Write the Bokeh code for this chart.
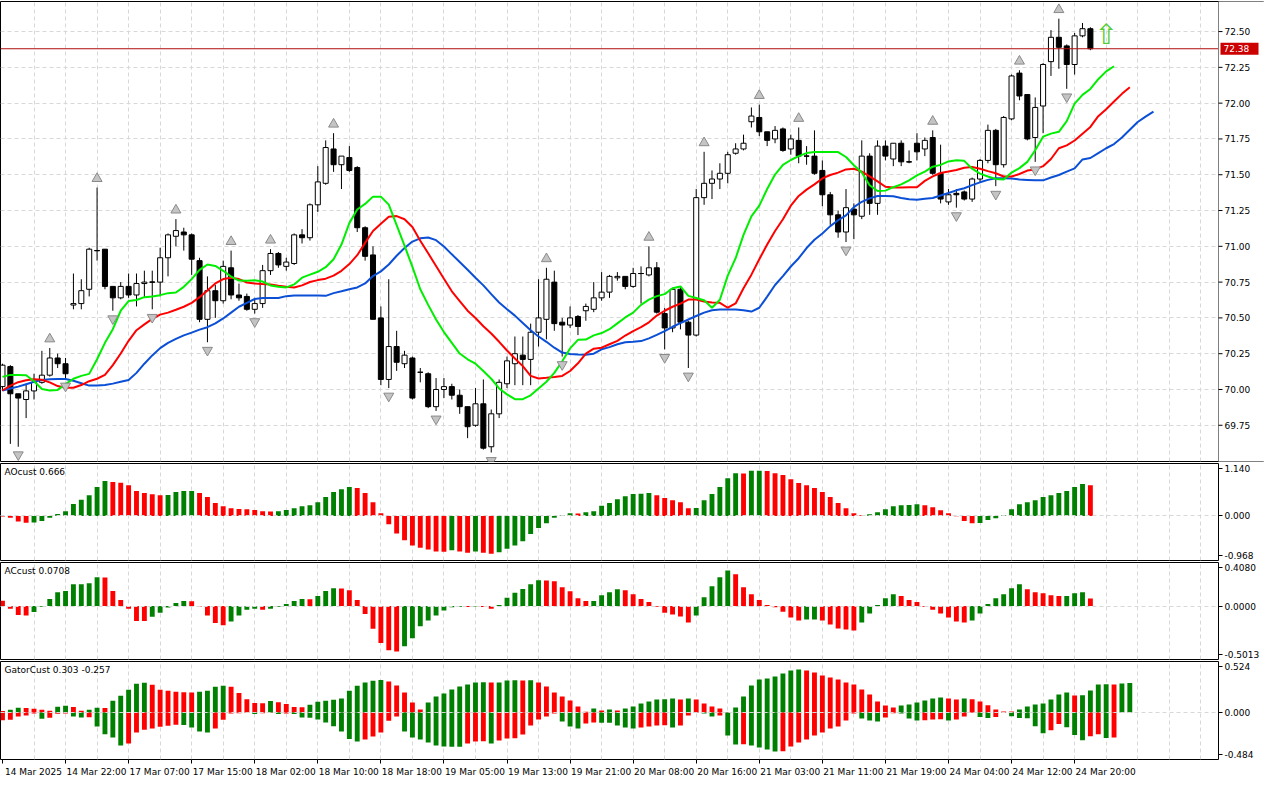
import numpy as np
from bokeh.plotting import figure
from bokeh.models import Range1d, FixedTicker, CustomJSTickFormatter, Span, Label
from bokeh.layouts import column
from bokeh.embed import file_html
from bokeh.resources import INLINE
from bokeh.core.properties import value

# ---------------- data (hourly bars) ----------------
time_labels = ["14 Mar 2025", "14 Mar 22:00", "17 Mar 07:00", "17 Mar 15:00", "18 Mar 02:00",
               "18 Mar 10:00", "18 Mar 18:00", "19 Mar 05:00", "19 Mar 13:00", "19 Mar 21:00",
               "20 Mar 08:00", "20 Mar 16:00", "21 Mar 03:00", "21 Mar 11:00", "21 Mar 19:00",
               "24 Mar 04:00", "24 Mar 12:00", "24 Mar 20:00"]
label_bars = [0, 8, 16, 24, 32, 40, 48, 56, 64, 72, 80, 88, 96, 104, 112, 120, 128, 136]

opens = [70.02, 70.16, 69.97, 69.93, 69.99, 70.05, 70.10, 70.22, 70.18, 70.59,
         70.60, 70.70, 70.97, 70.98, 70.72, 70.64, 70.72, 70.66, 70.74, 70.75,
         70.75, 70.92, 71.07, 71.10, 71.08, 70.90, 70.49, 70.69, 70.62, 70.85,
         70.66, 70.65, 70.56, 70.60, 70.83, 70.95, 70.86, 70.88, 71.08, 71.06,
         71.29, 71.44, 71.68, 71.57, 71.62, 71.55, 71.13, 70.94, 70.50, 70.07,
         70.30, 70.18, 70.22, 70.12, 70.11, 69.88, 70.00, 70.02, 69.96, 69.88,
         69.75, 69.90, 69.60, 69.83, 70.04, 70.18, 70.24, 70.21, 70.40, 70.49,
         70.75, 70.47, 70.45, 70.51, 70.55, 70.56, 70.64, 70.68, 70.78, 70.79,
         70.72, 70.81, 70.80, 70.85, 70.53, 70.43, 70.70, 70.47, 70.38, 71.34,
         71.44, 71.47, 71.51, 71.65, 71.68, 71.87, 71.90, 71.80, 71.75, 71.82,
         71.68, 71.74, 71.63, 71.63, 71.53, 71.36, 71.22, 71.10, 71.26, 71.21,
         71.63, 71.30, 71.70, 71.61, 71.72, 71.59, 71.72, 71.68, 71.76, 71.51,
         71.31, 71.37, 71.38, 71.33, 71.47, 71.60, 71.81, 71.57, 71.89, 72.21,
         72.06, 71.76, 71.98, 72.29, 72.46, 72.40, 72.27, 72.47, 72.52]
highs = [70.18, 70.17, 69.97, 70.04, 70.11, 70.27, 70.29, 70.25, 70.22, 70.81,
         70.77, 70.99, 71.41, 70.98, 70.72, 70.75, 70.81, 70.81, 70.83, 70.83,
         70.99, 71.09, 71.19, 71.13, 71.09, 70.92, 70.79, 70.73, 70.90, 70.97,
         70.74, 70.67, 70.64, 70.87, 70.98, 70.96, 70.92, 71.09, 71.12, 71.30,
         71.56, 71.74, 71.79, 71.63, 71.70, 71.56, 71.14, 71.00, 70.58, 70.77,
         70.41, 70.27, 70.23, 70.15, 70.12, 70.08, 70.08, 70.04, 70.00, 69.88,
         70.01, 70.07, 69.86, 70.07, 70.23, 70.37, 70.37, 70.46, 70.77, 70.85,
         70.83, 70.50, 70.58, 70.52, 70.60, 70.75, 70.82, 70.80, 70.82, 70.79,
         70.85, 70.86, 71.00, 70.89, 70.57, 70.71, 70.72, 70.48, 71.40, 71.66,
         71.53, 71.58, 71.66, 71.72, 71.78, 71.97, 71.99, 71.80, 71.84, 71.83,
         71.78, 71.83, 71.70, 71.81, 71.60, 71.38, 71.25, 71.40, 71.30, 71.74,
         71.65, 71.74, 71.74, 71.72, 71.74, 71.67, 71.79, 71.76, 71.81, 71.71,
         71.40, 71.40, 71.39, 71.48, 71.61, 71.85, 71.82, 71.91, 72.20, 72.23,
         72.06, 72.04, 72.28, 72.51, 72.59, 72.41, 72.49, 72.56, 72.53]
lows = [69.99, 69.62, 69.60, 69.80, 69.93, 70.04, 70.09, 70.15, 70.08, 70.56,
        70.56, 70.65, 70.90, 70.70, 70.55, 70.63, 70.64, 70.58, 70.64, 70.56,
        70.65, 70.79, 71.00, 70.97, 70.80, 70.47, 70.33, 70.50, 70.60, 70.63,
        70.62, 70.55, 70.53, 70.57, 70.80, 70.85, 70.83, 70.87, 71.02, 71.04,
        71.24, 71.43, 71.52, 71.40, 71.52, 71.10, 70.90, 70.49, 70.03, 70.01,
        70.13, 70.15, 69.93, 70.05, 69.87, 69.85, 69.94, 69.93, 69.83, 69.66,
        69.74, 69.58, 69.56, 69.80, 70.01, 70.03, 70.03, 70.03, 70.30, 70.35,
        70.41, 70.23, 70.43, 70.38, 70.48, 70.54, 70.62, 70.64, 70.76, 70.70,
        70.71, 70.60, 70.79, 70.53, 70.28, 70.40, 70.42, 70.15, 70.37, 71.29,
        71.33, 71.40, 71.44, 71.64, 71.67, 71.83, 71.77, 71.70, 71.72, 71.66,
        71.64, 71.58, 71.57, 71.50, 71.28, 71.15, 71.06, 71.03, 71.05, 71.19,
        71.22, 71.22, 71.60, 71.56, 71.56, 71.58, 71.60, 71.63, 71.50, 71.30,
        71.29, 71.27, 71.32, 71.31, 71.45, 71.58, 71.42, 71.55, 71.88, 72.02,
        71.74, 71.59, 71.79, 72.19, 72.24, 72.10, 72.20, 72.46, 72.37]
closes = [70.17, 69.97, 69.94, 69.99, 70.05, 70.10, 70.22, 70.18, 70.11, 70.60,
          70.69, 70.98, 70.97, 70.72, 70.64, 70.72, 70.66, 70.74, 70.75, 70.75,
          70.92, 71.08, 71.11, 71.08, 70.91, 70.49, 70.69, 70.62, 70.86, 70.66,
          70.64, 70.56, 70.60, 70.83, 70.95, 70.87, 70.89, 71.08, 71.06, 71.29,
          71.45, 71.69, 71.57, 71.63, 71.53, 71.13, 70.93, 70.49, 70.07, 70.30,
          70.19, 70.24, 69.94, 70.12, 69.88, 70.00, 70.02, 69.96, 69.88, 69.74,
          69.90, 69.59, 69.83, 70.05, 70.20, 70.25, 70.21, 70.40, 70.50, 70.77,
          70.46, 70.45, 70.50, 70.44, 70.58, 70.64, 70.68, 70.79, 70.79, 70.72,
          70.81, 70.81, 70.85, 70.54, 70.43, 70.70, 70.47, 70.38, 71.34, 71.44,
          71.47, 71.51, 71.64, 71.68, 71.72, 71.91, 71.80, 71.74, 71.81, 71.67,
          71.75, 71.63, 71.63, 71.51, 71.36, 71.22, 71.10, 71.27, 71.22, 71.63,
          71.30, 71.70, 71.63, 71.72, 71.59, 71.59, 71.66, 71.74, 71.51, 71.33,
          71.36, 71.36, 71.33, 71.47, 71.60, 71.81, 71.57, 71.90, 72.19, 72.05,
          71.75, 71.97, 72.27, 72.46, 72.39, 72.27, 72.47, 72.52, 72.38]

# Alligator lines as displayed (already shifted forward: lips 3, teeth 5, jaw 8 bars)
lips = [70.088, 70.102, 70.102, 70.099, 70.058, 70.003, 69.993, 69.997, 70.037, 70.075,
        70.095, 70.109, 70.211, 70.326, 70.421, 70.550, 70.618, 70.625, 70.645, 70.650,
        70.659, 70.673, 70.677, 70.717, 70.771, 70.836, 70.873, 70.863, 70.829, 70.788,
        70.761, 70.759, 70.763, 70.754, 70.727, 70.717, 70.713, 70.734, 70.781, 70.802,
        70.822, 70.854, 70.910, 71.012, 71.162, 71.257, 71.296, 71.347, 71.347, 71.291,
        71.148, 71.005, 70.856, 70.700, 70.591, 70.489, 70.401, 70.326, 70.251, 70.211,
        70.180, 70.129, 70.075, 70.007, 69.966, 69.932, 69.932, 69.959, 70.007, 70.054,
        70.116, 70.197, 70.287, 70.347, 70.349, 70.378, 70.394, 70.421, 70.462, 70.503,
        70.537, 70.591, 70.628, 70.652, 70.666, 70.707, 70.720, 70.654, 70.639, 70.623,
        70.571, 70.627, 70.795, 70.917, 71.080, 71.209, 71.284, 71.400, 71.501, 71.569,
        71.603, 71.630, 71.651, 71.658, 71.658, 71.658, 71.658, 71.624, 71.566, 71.515,
        71.427, 71.386, 71.389, 71.413, 71.433, 71.461, 71.495, 71.522, 71.556, 71.569,
        71.593, 71.601, 71.597, 71.542, 71.508, 71.488, 71.471, 71.467, 71.515, 71.546,
        71.590, 71.671, 71.766, 71.787, 71.800, 71.875, 71.997, 72.058, 72.099, 72.167,
        72.222, 72.258]
teeth = [69.993, 70.027, 70.051, 70.065, 70.071, 70.068, 70.050, 70.024, 70.012, 70.012,
         70.031, 70.058, 70.075, 70.102, 70.170, 70.251, 70.340, 70.414, 70.455, 70.493,
         70.523, 70.537, 70.557, 70.578, 70.605, 70.645, 70.691, 70.741, 70.771, 70.781,
         70.771, 70.747, 70.741, 70.737, 70.734, 70.724, 70.717, 70.713, 70.727, 70.751,
         70.764, 70.774, 70.795, 70.829, 70.876, 70.938, 71.024, 71.107, 71.158, 71.206,
         71.211, 71.189, 71.135, 71.039, 70.951, 70.863, 70.774, 70.686, 70.618, 70.550,
         70.499, 70.442, 70.391, 70.333, 70.272, 70.217, 70.163, 70.095, 70.077, 70.082,
         70.088, 70.095, 70.129, 70.183, 70.251, 70.285, 70.292, 70.316, 70.340, 70.377,
         70.408, 70.435, 70.469, 70.516, 70.550, 70.578, 70.600, 70.628, 70.628, 70.615,
         70.608, 70.605, 70.571, 70.601, 70.707, 70.802, 70.910, 71.012, 71.107, 71.189,
         71.284, 71.352, 71.396, 71.433, 71.474, 71.498, 71.515, 71.537, 71.542, 71.522,
         71.488, 71.454, 71.416, 71.410, 71.410, 71.413, 71.413, 71.457, 71.488, 71.512,
         71.522, 71.533, 71.549, 71.554, 71.542, 71.525, 71.510, 71.488, 71.488, 71.505,
         71.529, 71.537, 71.560, 71.610, 71.685, 71.705, 71.739, 71.787, 71.834, 71.909,
         71.957, 72.011, 72.065, 72.111]
jaw = [69.993, 70.007, 70.020, 70.037, 70.054, 70.066, 70.071, 70.073, 70.073, 70.061,
       70.044, 70.027, 70.027, 70.031, 70.041, 70.054, 70.066, 70.116, 70.180, 70.238,
       70.289, 70.326, 70.353, 70.378, 70.397, 70.418, 70.435, 70.462, 70.496, 70.537,
       70.578, 70.605, 70.632, 70.639, 70.639, 70.639, 70.652, 70.656, 70.657, 70.657,
       70.656, 70.654, 70.673, 70.686, 70.700, 70.713, 70.741, 70.792, 70.825, 70.873,
       70.934, 70.988, 71.033, 71.056, 71.062, 71.043, 70.999, 70.944, 70.890, 70.836,
       70.781, 70.727, 70.666, 70.608, 70.561, 70.516, 70.465, 70.414, 70.370, 70.333,
       70.292, 70.258, 70.248, 70.245, 70.243, 70.250, 70.281, 70.296, 70.316, 70.330,
       70.333, 70.338, 70.357, 70.381, 70.408, 70.438, 70.464, 70.489, 70.513, 70.537,
       70.554, 70.559, 70.559, 70.559, 70.554, 70.544, 70.571, 70.649, 70.730, 70.792,
       70.859, 70.917, 70.988, 71.046, 71.090, 71.141, 71.182, 71.216, 71.274, 71.311,
       71.335, 71.352, 71.352, 71.349, 71.338, 71.328, 71.325, 71.332, 71.338, 71.355,
       71.372, 71.391, 71.406, 71.427, 71.447, 71.464, 71.476, 71.476, 71.473, 71.467,
       71.464, 71.461, 71.461, 71.481, 71.498, 71.522, 71.544, 71.607, 71.617, 71.651,
       71.685, 71.714, 71.760, 71.814, 71.868, 71.906, 71.941]

fractal_up_bars = [6, 12, 22, 29, 34, 42, 69, 82, 89, 96, 101, 118, 129, 134]
fractal_down_bars = [2, 8, 14, 19, 26, 32, 49, 55, 62, 71, 84, 87, 107, 121, 126, 131, 135]
signal_bar = [140]
signal_price = [72.48]

ao = [-0.01, -0.04, -0.12, -0.15, -0.14, -0.11, -0.04, 0.04, 0.10, 0.26,
      0.35, 0.45, 0.63, 0.76, 0.74, 0.72, 0.67, 0.54, 0.50, 0.47,
      0.45, 0.455, 0.52, 0.54, 0.545, 0.50, 0.41, 0.28, 0.21, 0.17,
      0.15, 0.145, 0.13, 0.10, 0.095, 0.10, 0.13, 0.17, 0.21, 0.23,
      0.30, 0.41, 0.52, 0.58, 0.63, 0.61, 0.50, 0.30, 0.06, -0.18,
      -0.38, -0.53, -0.64, -0.69, -0.73, -0.77, -0.78, -0.745, -0.77, -0.80,
      -0.77, -0.80, -0.82, -0.79, -0.71, -0.64, -0.55, -0.39, -0.26, -0.16,
      -0.04, 0.015, 0.06, 0.055, 0.08, 0.10, 0.22, 0.28, 0.365, 0.43,
      0.475, 0.48, 0.50, 0.45, 0.39, 0.34, 0.30, 0.17, 0.175, 0.34,
      0.475, 0.63, 0.82, 0.93, 0.925, 0.98, 0.985, 0.975, 0.93, 0.89,
      0.80, 0.715, 0.67, 0.61, 0.52, 0.41, 0.28, 0.17, 0.06, 0.015,
      0.035, 0.08, 0.145, 0.21, 0.235, 0.236, 0.255, 0.235, 0.19, 0.125,
      0.06, -0.005, -0.11, -0.16, -0.155, -0.09, -0.05, 0.02, 0.145, 0.255,
      0.30, 0.34, 0.41, 0.45, 0.50, 0.54, 0.63, 0.693, 0.666]
ac = [0.05, -0.025, -0.083, -0.09, -0.056, -0.006, 0.065, 0.13, 0.14, 0.204,
      0.205, 0.213, 0.27, 0.268, 0.14, 0.056, -0.025, -0.14, -0.141, -0.10,
      -0.062, -0.015, 0.028, 0.046, 0.045, -0.004, -0.09, -0.16, -0.18, -0.145,
      -0.09, -0.034, -0.025, -0.034, -0.025, -0.006, 0.019, 0.046, 0.065, 0.064,
      0.093, 0.14, 0.167, 0.165, 0.148, 0.056, -0.074, -0.213, -0.346, -0.414,
      -0.426, -0.377, -0.303, -0.19, -0.136, -0.09, -0.043, -0.012, -0.006, -0.008,
      -0.004, -0.01, -0.025, 0.009, 0.077, 0.124, 0.16, 0.204, 0.241, 0.240,
      0.232, 0.176, 0.139, 0.074, 0.046, 0.047, 0.102, 0.13, 0.158, 0.148,
      0.111, 0.065, 0.037, -0.006, -0.062, -0.08, -0.099, -0.155, -0.09, 0.083,
      0.185, 0.269, 0.334, 0.297, 0.176, 0.111, 0.056, 0.009, -0.012, -0.053,
      -0.108, -0.136, -0.127, -0.126, -0.136, -0.173, -0.21, -0.22, -0.229, -0.155,
      -0.071, 0.009, 0.074, 0.111, 0.093, 0.056, 0.037, -0.006, -0.034, -0.071,
      -0.108, -0.145, -0.155, -0.136, -0.071, 0.019, 0.074, 0.111, 0.167, 0.204,
      0.158, 0.13, 0.12, 0.102, 0.093, 0.094, 0.12, 0.13, 0.0708]
gator_up = [0.014, 0.027, 0.048, 0.046, 0.038, 0.027, 0.017, 0.058, 0.069, 0.055,
            0.017, 0.027, 0.048, 0.046, 0.120, 0.172, 0.233, 0.295, 0.305, 0.285,
            0.233, 0.223, 0.213, 0.209, 0.206, 0.213, 0.223, 0.264, 0.274, 0.264,
            0.199, 0.137, 0.096, 0.094, 0.117, 0.106, 0.086, 0.055, 0.053, 0.079,
            0.110, 0.120, 0.130, 0.144, 0.223, 0.274, 0.309, 0.326, 0.333, 0.319,
            0.278, 0.206, 0.103, 0.031, 0.103, 0.165, 0.196, 0.237, 0.268, 0.288,
            0.309, 0.310, 0.307, 0.309, 0.329, 0.331, 0.329, 0.330, 0.309, 0.268,
            0.206, 0.165, 0.123, 0.062, 0.007, 0.041, 0.021, 0.031, 0.021, 0.041,
            0.062, 0.093, 0.113, 0.134, 0.135, 0.144, 0.134, 0.144, 0.134, 0.093,
            0.062, 0.041, 0.002, 0.051, 0.165, 0.278, 0.340, 0.350, 0.370, 0.401,
            0.432, 0.442, 0.432, 0.412, 0.381, 0.360, 0.340, 0.309, 0.288, 0.237,
            0.185, 0.113, 0.072, 0.051, 0.072, 0.082, 0.103, 0.123, 0.144, 0.154,
            0.144, 0.134, 0.144, 0.137, 0.113, 0.075, 0.031, 0.010, 0.009, 0.031,
            0.062, 0.082, 0.093, 0.134, 0.185, 0.206, 0.175, 0.177, 0.226, 0.288,
            0.289, 0.288, 0.298, 0.303]
gator_down = [0.079, 0.075, 0.041, 0.031, 0.010, 0.065, 0.055, 0.014, 0.012, 0.041,
              0.051, 0.050, 0.144, 0.223, 0.257, 0.340, 0.319, 0.206, 0.178, 0.165,
              0.147, 0.137, 0.127, 0.129, 0.154, 0.196, 0.206, 0.165, 0.075, 0.010,
              0.007, 0.003, 0.017, 0.007, 0.003, 0.017, 0.010, 0.017, 0.051, 0.055,
              0.072, 0.103, 0.141, 0.196, 0.274, 0.298, 0.278, 0.247, 0.206, 0.086,
              0.041, 0.196, 0.257, 0.278, 0.309, 0.340, 0.350, 0.352, 0.353, 0.319,
              0.298, 0.297, 0.319, 0.288, 0.268, 0.266, 0.226, 0.134, 0.072, 0.041,
              0.010, 0.093, 0.144, 0.165, 0.113, 0.103, 0.105, 0.106, 0.134, 0.154,
              0.165, 0.154, 0.144, 0.134, 0.132, 0.154, 0.134, 0.031, 0.002, 0.010,
              0.041, 0.031, 0.237, 0.329, 0.328, 0.340, 0.360, 0.381, 0.401, 0.398,
              0.350, 0.309, 0.278, 0.237, 0.206, 0.165, 0.144, 0.082, 0.010, 0.062,
              0.082, 0.093, 0.051, 0.007, 0.010, 0.062, 0.082, 0.081, 0.072, 0.070,
              0.082, 0.072, 0.041, 0.003, 0.048, 0.058, 0.048, 0.005, 0.038, 0.058,
              0.059, 0.141, 0.213, 0.182, 0.120, 0.151, 0.233, 0.285, 0.244, 0.223,
              0.264, 0.257]

price_ticks = [69.75, 70.00, 70.25, 70.50, 70.75, 71.00, 71.25, 71.50, 71.75, 72.00, 72.25, 72.50]
price_range = (69.497, 72.71)
ao_range = (-0.968, 1.140)
ac_range = (-0.5013, 0.4080)
gator_range = (-0.484, 0.524)
ao_labels = ("-0.968", "0.000", "1.140")
ac_labels = ("-0.5013", "0.0000", "0.4080")
gator_labels = ("-0.484", "0.000", "0.524")

# ---------------- layout / style ----------------
W = 1264
RB = 46
FRAME_W = W - RB
X0, X1 = -0.25, 154.25
PXX = (X1 - X0) / FRAME_W          # data units per horizontal pixel
X2 = X1 + RB * PXX                 # main panel spans the price-scale strip as well
FH_MAIN, FH_SUB, FH_GATOR = 460, 97, 98
FONT = "DejaVu Sans"
GRID = "#d8d8d8"
GREEN = "#008000"
RED = "#ff0000"
grid_bars = list(range(4, 154, 4))

xr = Range1d(X0, X1)


def style_common(p):
    p.outline_line_color = "black"
    p.outline_line_alpha = 1.0
    p.outline_line_width = 1
    p.background_fill_color = "white"
    p.border_fill_color = "white"
    p.xgrid.ticker = FixedTicker(ticks=grid_bars)
    p.xgrid.grid_line_color = GRID
    p.xgrid.grid_line_dash = "4 3"
    p.ygrid.grid_line_color = GRID
    p.ygrid.grid_line_dash = "4 3"


def make_fig(frame_h, yr, with_xaxis=False):
    p = figure(frame_width=FRAME_W, frame_height=frame_h, x_range=xr, y_range=Range1d(*yr),
               toolbar_location=None, output_backend="svg",
               y_axis_location="right", x_axis_location=("below" if with_xaxis else None),
               min_border_left=0, min_border_right=RB, min_border_top=1,
               min_border_bottom=(0 if with_xaxis else 1))
    style_common(p)
    ax = p.yaxis[0]
    ax.axis_line_color = None
    ax.major_tick_out = 4
    ax.major_tick_in = 0
    ax.minor_tick_out = 0
    ax.minor_tick_in = 0
    ax.major_tick_line_color = "black"
    ax.major_label_text_font = FONT
    ax.major_label_text_font_size = "9px"
    ax.major_label_text_color = "black"
    ax.major_label_standoff = 2
    return p


def dir_colors(vals):
    out = [RED]
    for a, b in zip(vals[:-1], vals[1:]):
        out.append(GREEN if b > a else RED)
    return out


def sub_axis(p, yr, labels, frame_h):
    d = 5.0 * (yr[1] - yr[0]) / frame_h
    p.yaxis.ticker = FixedTicker(ticks=[yr[0] + d, 0.0, yr[1] - d])
    p.yaxis.formatter = CustomJSTickFormatter(
        args=dict(lo=labels[0], mid=labels[1], hi=labels[2]),
        code="return tick > 1e-9 ? hi : (tick < -1e-9 ? lo : mid);")
    p.ygrid.ticker = FixedTicker(ticks=[0.0])
    p.ygrid.level = "overlay"


def panel_title(p, yr, text):
    p.add_layout(Label(x=X0, y=yr[1], x_units="data", y_units="data", text=text,
                       x_offset=4, y_offset=-3, text_align="left", text_baseline="top",
                       text_font=FONT, text_font_size="9px", text_color="black"))


# ---------------- main price panel (its price scale drawn inside its own frame) ----------------
pm = figure(frame_width=W, frame_height=FH_MAIN, x_range=Range1d(X0, X2), y_range=Range1d(*price_range),
            toolbar_location=None, output_backend="svg",
            x_axis_location=None, y_axis_location=None,
            min_border_left=0, min_border_right=0, min_border_top=1, min_border_bottom=1)
style_common(pm)
pm.ygrid.ticker = FixedTicker(ticks=price_ticks)

o = np.array(opens)
h = np.array(highs)
l = np.array(lows)
c = np.array(closes)
bars = np.arange(len(c))
up = c >= o
btop = np.maximum(o, c)
bbot = np.minimum(o, c)

pm.segment(x0=bars, y0=l, x1=bars, y1=h, line_color="black", line_width=1)
pm.vbar(x=bars[up], width=0.64, top=btop[up], bottom=bbot[up],
        fill_color="white", line_color="black", line_width=1)
pm.vbar(x=bars[~up], width=0.64, top=btop[~up], bottom=bbot[~up],
        fill_color="black", line_color="black", line_width=1)
doji = np.abs(c - o) < 0.006
pm.segment(x0=bars[doji] - 0.32, y0=c[doji], x1=bars[doji] + 0.32, y1=c[doji],
           line_color="black", line_width=1)

pm.line(np.arange(len(jaw)), jaw, line_color="#0a4fd6", line_width=2)
pm.line(np.arange(len(teeth)), teeth, line_color="#ff0000", line_width=2)
pm.line(np.arange(len(lips)), lips, line_color="#00ee00", line_width=2)

ppx = (price_range[1] - price_range[0]) / FH_MAIN
fu = np.array(fractal_up_bars)
fd = np.array(fractal_down_bars)
pm.scatter(x=fu, y=h[fu] + 9 * ppx, marker="triangle", size=10,
           fill_color="#c4c4c4", line_color="#8a8a8a", line_width=1)
pm.scatter(x=fd, y=l[fd] - 8 * ppx, marker="inverted_triangle", size=10,
           fill_color="#c4c4c4", line_color="#8a8a8a", line_width=1)

pm.text(x=signal_bar, y=signal_price, text=["\u21e7"], text_font=value(FONT),
        text_font_size="28px", text_color="#55cc33", text_align="center", text_baseline="middle")

pm.add_layout(Span(location=closes[-1], dimension="width", line_color="#b01010", line_width=1))

# price scale strip
yr0, yr1 = price_range
pm.quad(left=X1, right=X2, bottom=yr0, top=yr1, fill_color="white", line_color=None, level="overlay")
pm.add_layout(Span(location=X1, dimension="height", line_color="black", line_width=1))
pm.segment(x0=[X1] * len(price_ticks), y0=price_ticks, x1=[X1 + 4 * PXX] * len(price_ticks),
           y1=price_ticks, line_color="black", line_width=1, level="overlay")
pm.text(x=[X1 + 6 * PXX] * len(price_ticks), y=price_ticks, text=[f"{t:.2f}" for t in price_ticks],
        text_font=value(FONT), text_font_size="9px", text_color="black",
        text_align="left", text_baseline="middle", level="overlay")
pm.rect(x=[X1 + 21 * PXX], y=[closes[-1]], width=38, height=12,
        width_units="screen", height_units="screen",
        fill_color="#cc0000", line_color=None, level="overlay")
pm.text(x=[X1 + 5 * PXX], y=[closes[-1]], text=[f"{closes[-1]:.2f}"],
        text_font=value(FONT), text_font_size="9px", text_color="white",
        text_align="left", text_baseline="middle", level="overlay")

# ---------------- AO ----------------
pao = make_fig(FH_SUB, ao_range)
sub_axis(pao, ao_range, ao_labels, FH_SUB)
pao.vbar(x=np.arange(len(ao)), width=0.62, top=ao, bottom=0, fill_color=dir_colors(ao), line_color=None)
panel_title(pao, ao_range, f"AOcust {ao[-1]:.3f}")

# ---------------- AC ----------------
pac = make_fig(FH_SUB, ac_range)
sub_axis(pac, ac_range, ac_labels, FH_SUB)
pac.vbar(x=np.arange(len(ac)), width=0.62, top=ac, bottom=0, fill_color=dir_colors(ac), line_color=None)
panel_title(pac, ac_range, f"ACcust {ac[-1]:.4f}")

# ---------------- Gator ----------------
pg = make_fig(FH_GATOR, gator_range, with_xaxis=True)
sub_axis(pg, gator_range, gator_labels, FH_GATOR)
pg.vbar(x=np.arange(len(gator_up)), width=0.62, top=gator_up, bottom=0,
        fill_color=dir_colors(gator_up), line_color=None)
pg.vbar(x=np.arange(len(gator_down)), width=0.62, top=0, bottom=-np.array(gator_down),
        fill_color=dir_colors(gator_down), line_color=None)
panel_title(pg, gator_range, f"GatorCust {gator_up[-1]:.3f} {-gator_down[-1]:.3f}")

off = 31.0 / (FRAME_W / (X1 - X0))
xa = pg.xaxis[0]
xa.ticker = FixedTicker(ticks=[b + off for b in label_bars], minor_ticks=label_bars)
xa.formatter = CustomJSTickFormatter(
    args=dict(labels=time_labels, bars=label_bars, off=off),
    code="""
let best = 0;
for (let j = 0; j < bars.length; j++) {
  if (Math.abs(bars[j] + off - tick) < Math.abs(bars[best] + off - tick)) best = j;
}
return labels[best];
""")
xa.axis_line_color = None
xa.major_tick_out = 0
xa.major_tick_in = 0
xa.minor_tick_out = 4
xa.minor_tick_in = 0
xa.minor_tick_line_color = "black"
xa.major_label_text_font = FONT
xa.major_label_text_font_size = "9px"
xa.major_label_text_color = "black"
xa.major_label_standoff = 3

layout = column(pm, pao, pac, pg)
open("out.html", "w").write(file_html(layout, INLINE))
